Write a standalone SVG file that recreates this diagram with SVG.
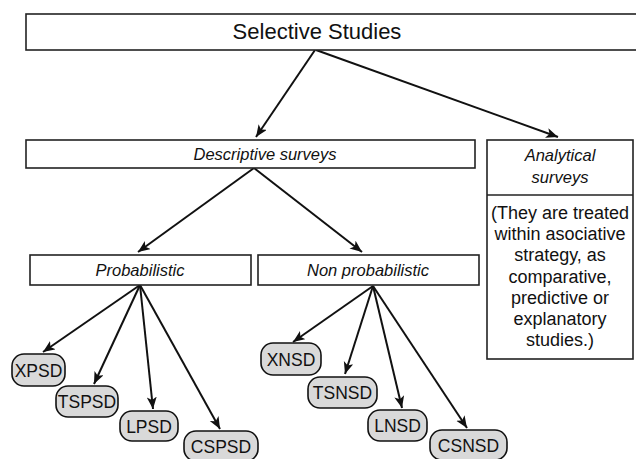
<svg xmlns="http://www.w3.org/2000/svg" width="636" height="459" viewBox="0 0 636 459">
<style>
.box{fill:#fff;stroke:#222;stroke-width:1.6}
.pill{fill:#d9d9d9;stroke:#111;stroke-width:1.6}
.t{font-family:"Liberation Sans",Arial,sans-serif;fill:#111;text-anchor:middle}
.it{font-style:italic;font-size:16.5px}
.p{font-size:17.5px}
.body{font-size:18px}
.c{fill:none;stroke:#111;stroke-width:2;marker-end:url(#ah)}
</style>
<defs>
<marker id="ah" markerUnits="userSpaceOnUse" markerWidth="14" markerHeight="12" refX="12" refY="5" orient="auto">
<path d="M0,0 L12,5 L0,10 L3,5 Z" fill="#111"/>
</marker>
</defs>
<rect width="636" height="459" fill="#fff"/>
<g id="connectors">
<line class="c" x1="315" y1="50" x2="256" y2="137"/>
<line class="c" x1="316" y1="50" x2="558" y2="137"/>
<line class="c" x1="254" y1="168" x2="138" y2="252"/>
<line class="c" x1="254" y1="168" x2="362" y2="252"/>
<line class="c" x1="140" y1="285" x2="43" y2="352"/>
<line class="c" x1="140" y1="285" x2="94" y2="384"/>
<line class="c" x1="140" y1="285" x2="153" y2="409"/>
<line class="c" x1="140" y1="285" x2="220" y2="429"/>
<line class="c" x1="373" y1="286" x2="293" y2="342"/>
<line class="c" x1="373" y1="286" x2="345" y2="374"/>
<line class="c" x1="373" y1="286" x2="402" y2="408"/>
<line class="c" x1="373" y1="286" x2="467" y2="428"/>
</g>
<g id="selective">
<rect class="box" x="26" y="14" width="614" height="36"/>
<text class="t" x="317" y="39" font-size="22">Selective Studies</text>
</g>
<g id="descriptive">
<rect class="box" x="26" y="140" width="449" height="28"/>
<text class="t it" x="265" y="159.5">Descriptive surveys</text>
</g>
<g id="analytical">
<rect class="box" x="487" y="140" width="146" height="219"/>
<line x1="487" y1="195" x2="633" y2="195" stroke="#222" stroke-width="1.6"/>
<text class="t it" x="560" y="161">Analytical</text>
<text class="t it" x="560" y="183">surveys</text>
<text class="t body" x="560" y="219">(They are treated</text>
<text class="t body" x="560" y="240">within asociative</text>
<text class="t body" x="560" y="261">strategy, as</text>
<text class="t body" x="560" y="283">comparative,</text>
<text class="t body" x="560" y="304">predictive or</text>
<text class="t body" x="560" y="325">explanatory</text>
<text class="t body" x="560" y="346">studies.)</text>
</g>
<g id="probabilistic">
<rect class="box" x="30" y="255" width="221" height="30"/>
<text class="t it" x="140" y="275.5">Probabilistic</text>
</g>
<g id="nonprobabilistic">
<rect class="box" x="258" y="255" width="221" height="30"/>
<text class="t it" x="368" y="275.5">Non probabilistic</text>
</g>
<g id="xpsd"><rect class="pill" x="12" y="354" width="53" height="32" rx="12"/><text class="t p" x="38.5" y="376.5">XPSD</text></g>
<g id="tspsd"><rect class="pill" x="56" y="386" width="62" height="31" rx="12"/><text class="t p" x="87" y="408">TSPSD</text></g>
<g id="lpsd"><rect class="pill" x="120" y="411" width="58" height="30" rx="12"/><text class="t p" x="149" y="432.5">LPSD</text></g>
<g id="cspsd"><rect class="pill" x="184" y="431" width="74" height="30" rx="12"/><text class="t p" x="221" y="452.5">CSPSD</text></g>
<g id="xnsd"><rect class="pill" x="261" y="343" width="60" height="32" rx="12"/><text class="t p" x="291" y="365.5">XNSD</text></g>
<g id="tsnsd"><rect class="pill" x="308" y="377" width="69" height="31" rx="12"/><text class="t p" x="342.5" y="399">TSNSD</text></g>
<g id="lnsd"><rect class="pill" x="368" y="410" width="59" height="31" rx="12"/><text class="t p" x="397.5" y="432">LNSD</text></g>
<g id="csnsd"><rect class="pill" x="430" y="430" width="77" height="30" rx="12"/><text class="t p" x="468.5" y="451.5">CSNSD</text></g>
</svg>
